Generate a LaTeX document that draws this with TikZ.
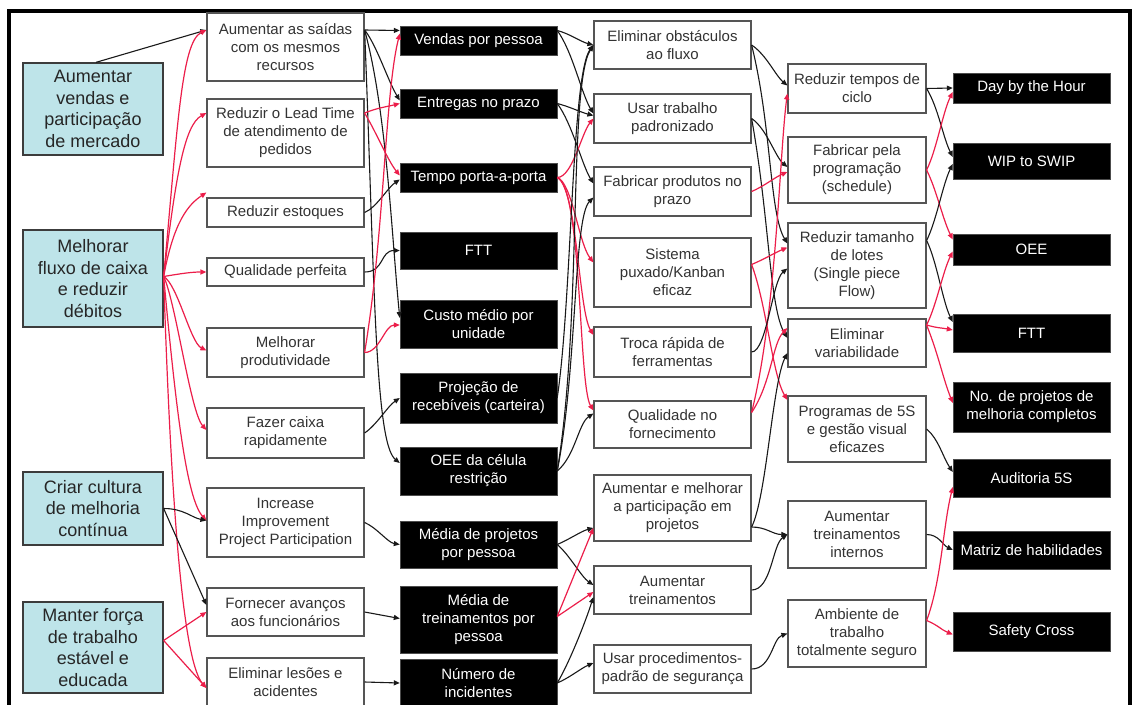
\documentclass[tikz,border=0pt]{standalone}
\usepackage{fontspec}
\setmainfont{Liberation Sans}
\usetikzlibrary{arrows.meta,calc}
\definecolor{linkred}{RGB}{236,30,74}
\definecolor{goalfill}{RGB}{190,228,233}
\definecolor{boxline}{RGB}{85,85,85}
\tikzset{
  base/.style={align=center, inner sep=0pt, font=\fontsize{15}{18}\selectfont},
  goal/.style={base, draw=boxline!70!black, fill=goalfill, line width=1.3pt, text=black!85,
               font=\fontsize{18}{21.7}\selectfont},
  wbox/.style={base, draw=boxline, fill=white, line width=1.2pt, text=black!80},
  kbox/.style={base, draw=black!70, fill=black, text=white},
  kl/.style={draw=black!90, line width=1.1pt, -{Triangle[length=6pt,width=5pt]}},
  rl/.style={draw=linkred, line width=1.2pt, -{Triangle[length=6pt,width=5pt]}},
}
\begin{document}
\begin{tikzpicture}[x=1pt,y=-1pt]
\useasboundingbox (0,0) rectangle (1132,704);
\fill[white] (0,0) rectangle (1132,704);
% outer frame (open at the bottom)
\draw[line width=3.5pt, line join=miter] (9,720) -- (9,11) -- (1130,11) -- (1130,720);

% strategic goals
\node[goal, minimum width=140, minimum height=92] (v1) at (93,109)   {Aumentar\\vendas e\\participação\\de mercado};
\node[goal, minimum width=140, minimum height=97] (v2) at (93,278.5) {Melhorar\\fluxo de caixa\\e reduzir\\débitos};
\node[goal, minimum width=140, minimum height=73] (v3) at (93,508.5) {Criar cultura\\de melhoria\\contínua};
\node[goal, minimum width=140, minimum height=91] (v4) at (93,647.5) {Manter força\\de trabalho\\estável e\\educada};

% objectives
\node[wbox, minimum width=157, minimum height=68] (a1) at (285.5,47)    {Aumentar as saídas\\com os mesmos\\recursos};
\node[wbox, minimum width=157, minimum height=68] (a2) at (285.5,133)   {Reduzir o Lead Time\\de atendimento de\\pedidos};
\node[wbox, minimum width=157, minimum height=29] (a3) at (285.5,212.5) {Reduzir estoques};
\node[wbox, minimum width=157, minimum height=28] (a4) at (285.5,272)   {Qualidade perfeita};
\node[wbox, minimum width=157, minimum height=49] (a5) at (285.5,352.5) {Melhorar\\produtividade};
\node[wbox, minimum width=157, minimum height=50] (a6) at (285.5,433)   {Fazer caixa\\rapidamente};
\node[wbox, minimum width=157, minimum height=69] (a7) at (285.5,522.5) {Increase\\Improvement\\Project Participation};
\node[wbox, minimum width=157, minimum height=48] (a8) at (285.5,612)   {Fornecer avanços\\aos funcionários};
\node[wbox, minimum width=157, minimum height=48] (a9) at (285.5,682)   {Eliminar lesões e\\acidentes};

% metrics
\node[kbox, minimum width=157, minimum height=29] (b1)  at (478.5,40.5)  {Vendas por pessoa};
\node[kbox, minimum width=157, minimum height=29] (b2)  at (478.5,103.5) {Entregas no prazo};
\node[kbox, minimum width=157, minimum height=29] (b3)  at (478.5,177.5) {Tempo porta-a-porta};
\node[kbox, minimum width=157, minimum height=37] (b4)  at (478.5,250.5) {FTT};
\node[kbox, minimum width=157, minimum height=48] (b5)  at (478.5,324)   {Custo médio por\\unidade};
\node[kbox, minimum width=157, minimum height=50] (b6)  at (478.5,398)   {Projeção de\\recebíveis (carteira)};
\node[kbox, minimum width=157, minimum height=48] (b7)  at (478.5,471)   {OEE da célula\\restrição};
\node[kbox, minimum width=157, minimum height=47] (b8)  at (478.5,544.5) {Média de projetos\\por pessoa};
\node[kbox, minimum width=157, minimum height=67] (b9)  at (478.5,619.5) {Média de\\treinamentos por\\pessoa};
\node[kbox, minimum width=157, minimum height=48] (b10) at (478.5,683)   {Número de\\incidentes};

% practices
\node[wbox, minimum width=157, minimum height=48] (c1) at (672.5,45)    {Eliminar obstáculos\\ao fluxo};
\node[wbox, minimum width=157, minimum height=49] (c2) at (672.5,118.5) {Usar trabalho\\padronizado};
\node[wbox, minimum width=157, minimum height=49] (c3) at (672.5,191.5) {Fabricar produtos no\\prazo};
\node[wbox, minimum width=157, minimum height=69] (c4) at (672.5,272.5) {Sistema\\puxado/Kanban\\eficaz};
\node[wbox, minimum width=157, minimum height=50] (c5) at (672.5,352)   {Troca rápida de\\ferramentas};
\node[wbox, minimum width=157, minimum height=47] (c6) at (672.5,424.5) {Qualidade no\\fornecimento};
\node[wbox, minimum width=157, minimum height=66] (c7) at (672.5,508)   {Aumentar e melhorar\\a participação em\\projetos};
\node[wbox, minimum width=157, minimum height=48] (c8) at (672.5,590)   {Aumentar\\treinamentos};
\node[wbox, minimum width=157, minimum height=48] (c9) at (672.5,669)   {Usar procedimentos-\\padrão de segurança};

% tools
\node[wbox, minimum width=138, minimum height=49] (d1) at (857,88.5)  {Reduzir tempos de\\ciclo};
\node[wbox, minimum width=138, minimum height=66] (d2) at (857,170)   {Fabricar pela\\programação\\(schedule)};
\node[wbox, minimum width=138, minimum height=85] (d3) at (857,265.5) {Reduzir tamanho\\de lotes\\(Single piece\\Flow)};
\node[wbox, minimum width=138, minimum height=48] (d4) at (857,343)   {Eliminar\\variabilidade};
\node[wbox, minimum width=138, minimum height=66] (d5) at (857,429)   {Programas de 5S\\e gestão visual\\eficazes};
\node[wbox, minimum width=138, minimum height=67] (d6) at (857,534.5) {Aumentar\\treinamentos\\internos};
\node[wbox, minimum width=138, minimum height=67] (d7) at (857,633.5) {Ambiente de\\trabalho\\totalmente seguro};

% indicators
\node[kbox, minimum width=157, minimum height=30] (e1) at (1031.5,88)    {Day by the Hour};
\node[kbox, minimum width=157, minimum height=36] (e2) at (1031.5,161)   {WIP to SWIP};
\node[kbox, minimum width=157, minimum height=31] (e3) at (1031.5,249.5) {OEE};
\node[kbox, minimum width=157, minimum height=38] (e4) at (1031.5,333)   {FTT};
\node[kbox, minimum width=157, minimum height=50] (e5) at (1031.5,407)   {No. de projetos de\\melhoria completos};
\node[kbox, minimum width=157, minimum height=38] (e6) at (1031.5,478)   {Auditoria 5S};
\node[kbox, minimum width=157, minimum height=38] (e7) at (1031.5,550)   {Matriz de habilidades};
\node[kbox, minimum width=157, minimum height=39] (e8) at (1031.5,631.5) {Safety Cross};

% goals -> objectives
\draw[kl] ($(v1.north)+(3,0)$) -- ($(a1.west)+(0,-17)$);
\coordinate (v2o) at ($(v2.east)+(0,-2)$);
\draw[rl] (v2o) .. controls +(14,-150) and +(-25,12) .. ($(a1.west)+(0,-17)$);
\draw[rl] (v2o) .. controls +(12,-100) and +(-22,12) .. ($(a2.west)+(0,-20)$);
\draw[rl] (v2o) .. controls +(10,-55) and +(-18,12) .. ($(a3.west)+(0,-20)$);
\draw[rl] (v2o) .. controls +(18,-3) and +(-15,0) .. (a4.west);
\draw[rl] (v2o) .. controls +(14,8) and +(-16,-8) .. ($(a5.west)+(0,-2)$);
\draw[rl] (v2o) .. controls +(12,25) and +(-16,-18) .. ($(a6.west)+(0,-3)$);
\draw[rl] (v2o) .. controls +(12,130) and +(-20,-22) .. ($(a7.west)+(0,-2)$);
\draw[rl] (v2o) .. controls +(8,250) and +(-22,-25) .. ($(a9.west)+(0,6)$);
\draw[kl] (v3.east) .. controls +(20,0) and +(-15,-3) .. ($(a7.west)+(0,-2)$);
\draw[kl] (v3.east) -- ($(a8.west)+(0,-7)$);
\coordinate (v4o) at ($(v4.east)+(0,-7)$);
\draw[rl] (v4o) -- (a8.west);
\draw[rl] (v4o) -- ($(a9.west)+(0,6)$);

% objectives -> metrics
\coordinate (a1o) at ($(a1.east)+(0,-17)$);
\draw[kl] (a1o) -- ($(b1.west)+(0,-10)$);
\draw[kl] (a1o) .. controls +(12,15) and +(-12,-20) .. ($(b2.west)+(0,-3)$);
\draw[kl] (a1o) .. controls +(22,80) and +(-8,-80) .. ($(b5.west)+(0,-6)$);
\draw[kl] (a1o) .. controls +(10,250) and +(-25,-20) .. ($(b7.west)+(0,-8)$);
\coordinate (a2o) at ($(a2.east)+(0,-20)$);
\draw[rl] (a2o) .. controls +(12,-5) and +(-12,3) .. (b2.west);
\draw[rl] (a2o) .. controls +(12,20) and +(-12,-15) .. ($(b3.west)+(0,-2)$);
\draw[kl] (a3.east) .. controls +(12,-5) and +(-12,8) .. ($(b3.west)+(0,2)$);
\draw[kl] (a4.east) .. controls +(20,0) and +(-20,0) .. (b4.west);
\draw[rl] (a5.east) .. controls +(15,0) and +(-15,0) .. ($(b5.west)+(0,1)$);
\draw[rl] (a5.east) .. controls +(20,-120) and +(-15,60) .. ($(b1.west)+(0,-7)$);
\draw[kl] (a6.east) .. controls +(12,-8) and +(-12,8) .. (b6.west);
\draw[kl] (a7.east) .. controls +(12,5) and +(-12,-2) .. (b8.west);
\draw[kl] (a8.east) -- ($(b9.west)+(0,-1)$);
\draw[kl] (a9.east) -- (b10.west);

% metrics -> practices
\coordinate (b1o) at ($(b1.east)+(0,-10)$);
\draw[kl] (b1o) .. controls +(12,3) and +(-12,-3) .. (c1.west);
\draw[kl] (b1o) .. controls +(15,20) and +(-12,-20) .. ($(c2.west)+(0,-5)$);
\draw[kl] (b2.east) .. controls +(12,3) and +(-12,-3) .. ($(c2.west)+(0,-3)$);
\draw[kl] (b2.east) .. controls +(15,20) and +(-12,-20) .. ($(c3.west)+(0,-8)$);
\draw[rl] (b3.east) .. controls +(15,0) and +(-12,15) .. (c2.west);
\draw[rl] (b3.east) .. controls +(15,5) and +(-15,-20) .. ($(c4.west)+(0,-10)$);
\draw[rl] (b3.east) .. controls +(20,10) and +(-15,-25) .. ($(c5.west)+(0,-17)$);
\draw[rl] (b3.east) .. controls +(25,10) and +(-15,-25) .. ($(c6.west)+(0,-14)$);
\draw[kl] (b6.east) .. controls +(15,-100) and +(-22,30) .. (c1.west);
\draw[kl] (b7.east) .. controls +(25,-150) and +(-25,40) .. (c1.west);
\draw[kl] (b7.east) .. controls +(20,-100) and +(-20,20) .. ($(c3.west)+(0,6)$);
\draw[kl] (b7.east) .. controls +(18,-15) and +(-15,10) .. ($(c6.west)+(0,-11)$);
\draw[kl] (b8.east) .. controls +(12,-5) and +(-12,3) .. ($(c7.west)+(0,20)$);
\draw[kl] (b8.east) .. controls +(12,10) and +(-12,-8) .. ($(c8.west)+(0,-5)$);
\coordinate (b9o) at ($(b9.east)+(0,-3)$);
\draw[rl] (b9o) -- ($(c7.west)+(0,20)$);
\draw[rl] (b9o) -- ($(c8.west)+(0,2)$);
\draw[kl] (b10.east) .. controls +(12,-20) and +(-8,25) .. ($(c8.west)+(0,7)$);
\draw[kl] (b10.east) .. controls +(12,-5) and +(-12,5) .. ($(c9.west)+(0,-6)$);

% practices -> tools
\draw[kl] (c1.east) .. controls +(15,10) and +(-12,-10) .. ($(d1.west)+(0,-3)$);
\draw[kl] (c1.east) .. controls +(20,80) and +(-18,-30) .. ($(d3.west)+(0,-22)$);
\draw[kl] (c2.east) .. controls +(15,10) and +(-12,-10) .. ($(d2.west)+(0,-3)$);
\draw[kl] (c2.east) .. controls +(18,100) and +(-18,-30) .. ($(d4.west)+(0,-5)$);
\draw[rl] (c3.east) .. controls +(12,-5) and +(-12,5) .. ($(d2.west)+(0,2)$);
\coordinate (c4o) at ($(c4.east)+(0,-8)$);
\draw[rl] (c4o) .. controls +(12,-5) and +(-12,5) .. ($(d3.west)+(0,-18)$);
\draw[rl] (c4o) .. controls +(15,40) and +(-15,-25) .. ($(d5.west)+(0,-29)$);
\coordinate (c6o) at ($(c6.east)+(0,-12)$);
\draw[rl] (c6o) .. controls +(25,-100) and +(-8,60) .. ($(d1.west)+(0,5)$);
\draw[rl] (c6o) .. controls +(20,-30) and +(-15,15) .. ($(d4.west)+(0,-15)$);
\draw[kl] (c5.east) .. controls +(15,0) and +(-15,12) .. ($(d3.west)+(0,3)$);
\coordinate (c7o) at ($(c7.east)+(0,19)$);
\draw[kl] (c7o) .. controls +(15,-30) and +(-15,30) .. ($(d4.west)+(0,10)$);
\draw[kl] (c7o) .. controls +(15,0) and +(-15,0) .. (d6.west);
\draw[kl] (c8.east) .. controls +(20,0) and +(-15,10) .. (d6.west);
\draw[kl] (c9.east) .. controls +(20,0) and +(-15,5) .. (d7.west);

% tools -> indicators
\draw[kl] (d1.east) -- (e1.west);
\draw[kl] (d1.east) .. controls +(12,20) and +(-10,-20) .. ($(e2.west)+(0,-4)$);
\draw[rl] (d2.east) .. controls +(10,-20) and +(-10,20) .. ($(e1.west)+(0,4)$);
\draw[rl] (d2.east) .. controls +(10,20) and +(-10,-20) .. ($(e3.west)+(0,-10)$);
\coordinate (d3o) at ($(d3.east)+(0,-25)$);
\draw[kl] (d3o) .. controls +(10,-20) and +(-10,20) .. ($(e2.west)+(0,3)$);
\draw[kl] (d3o) .. controls +(10,20) and +(-10,-20) .. ($(e4.west)+(0,-11)$);
\coordinate (d4o) at ($(d4.east)+(0,-18)$);
\draw[rl] (d4o) .. controls +(10,-20) and +(-10,20) .. ($(e3.west)+(0,2)$);
\draw[rl] (d4o) .. controls +(10,3) and +(-10,-2) .. ($(e4.west)+(0,-3)$);
\draw[rl] (d4o) .. controls +(12,30) and +(-10,-25) .. ($(e5.west)+(0,-4)$);
\draw[kl] (d5.east) .. controls +(12,10) and +(-10,-15) .. ($(e6.west)+(0,-6)$);
\draw[kl] (d6.east) .. controls +(12,0) and +(-10,-5) .. (e7.west);
\coordinate (d7o) at ($(d7.east)+(0,-13)$);
\draw[rl] (d7o) .. controls +(12,5) and +(-12,-5) .. ($(e8.west)+(0,3)$);
\draw[rl] (d7o) .. controls +(15,-40) and +(-10,40) .. ($(e6.west)+(0,9)$);
\end{tikzpicture}
\end{document}
